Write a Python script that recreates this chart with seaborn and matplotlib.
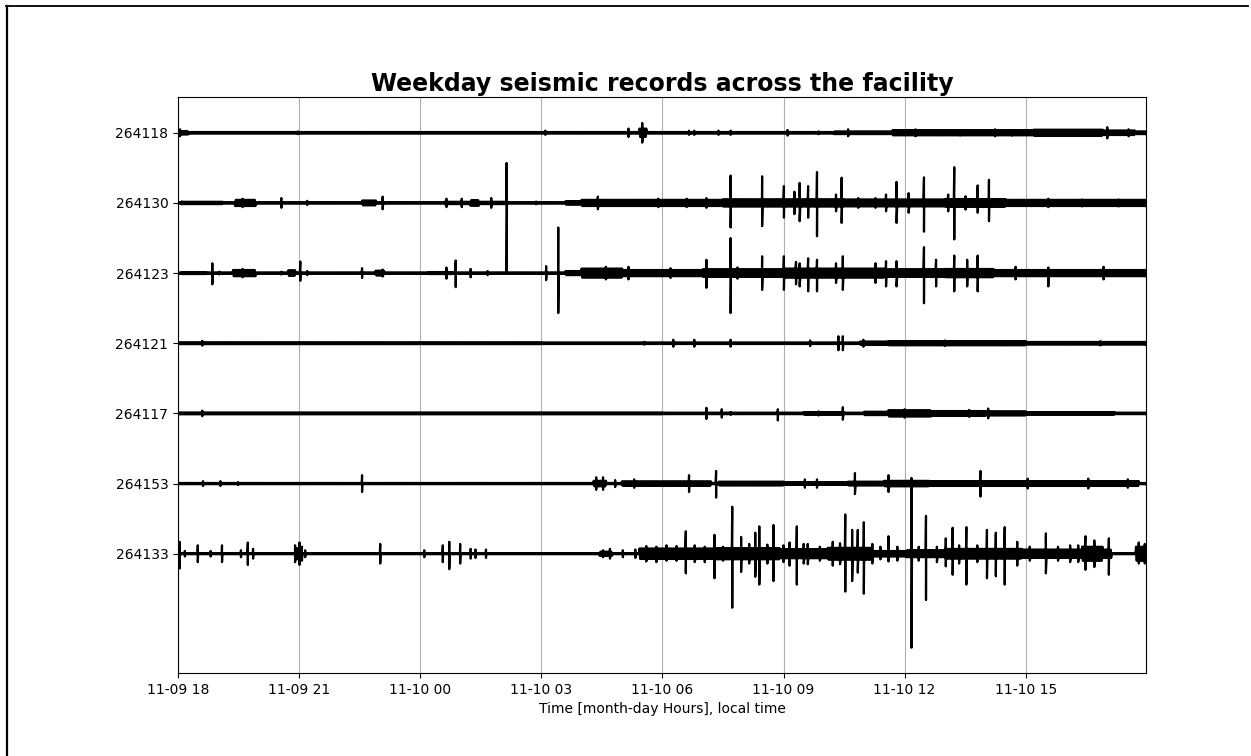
import numpy as np
import pandas as pd
import matplotlib
matplotlib.use("Agg")
import matplotlib.pyplot as plt
import matplotlib.dates as mdates
from matplotlib.lines import Line2D
import seaborn as sns

# ---------------- data (hours after 11-09 18:00; amplitudes in trace spacings) ----
stations = ["264118", "264130", "264123", "264121", "264117", "264153", "264133"]
start_time = "2022-11-09 18:00"
span_hours = 23.98

background = {"264118": 0.012, "264130": 0.010, "264123": 0.010, "264121": 0.012,
              "264117": 0.012, "264153": 0.010, "264133": 0.008}

# noisy stretches: (start hour, end hour, half amplitude)
bursts_264118 = [(0.0, 0.25, 0.025), (11.42, 11.6, 0.06), (16.25, 17.7, 0.02),
                 (17.7, 21.2, 0.037), (21.2, 22.9, 0.045), (22.9, 23.7, 0.033),
                 (23.7, 24.0, 0.02)]
bursts_264130 = [(0.1, 1.1, 0.018), (1.41, 1.92, 0.045), (4.56, 4.9, 0.035),
                 (6.6, 8.1, 0.018), (7.25, 7.46, 0.04), (9.59, 10.0, 0.025),
                 (10.0, 11.0, 0.045), (11.0, 13.5, 0.045), (13.5, 16.5, 0.052),
                 (16.5, 19.0, 0.05), (19.0, 20.5, 0.055), (20.5, 24.0, 0.045)]
bursts_264123 = [(0.1, 0.7, 0.015), (1.36, 1.92, 0.045), (2.73, 2.9, 0.04),
                 (4.9, 5.1, 0.035), (6.2, 6.8, 0.015), (9.59, 10.0, 0.03),
                 (10.0, 11.0, 0.065), (11.0, 13.0, 0.045), (13.0, 15.0, 0.055),
                 (15.0, 17.5, 0.065), (17.5, 19.0, 0.055), (19.0, 20.2, 0.06),
                 (20.2, 24.0, 0.045)]
bursts_264121 = [(0.0, 9.0, 0.014), (16.9, 17.6, 0.025), (17.6, 21.0, 0.03),
                 (21.0, 24.0, 0.02)]
bursts_264117 = [(0.0, 12.0, 0.014), (15.5, 16.5, 0.02), (17.0, 17.6, 0.025),
                 (17.6, 18.65, 0.045), (18.65, 20.0, 0.035), (20.0, 21.0, 0.03),
                 (21.0, 23.2, 0.02)]
bursts_264153 = [(10.3, 10.6, 0.04), (11.0, 13.2, 0.032), (13.4, 15.0, 0.028),
                 (15.0, 16.6, 0.02), (16.6, 17.5, 0.028), (17.5, 18.6, 0.04),
                 (18.6, 23.8, 0.035)]
bursts_264133 = [(10.45, 10.75, 0.03), (11.42, 13.3, 0.075), (13.3, 14.9, 0.08),
                 (14.9, 16.1, 0.065), (16.1, 17.2, 0.085), (17.2, 18.05, 0.04),
                 (18.05, 19.0, 0.05), (19.0, 20.9, 0.07), (20.9, 22.4, 0.06),
                 (22.4, 22.9, 0.10), (22.9, 23.12, 0.06), (23.72, 24.0, 0.10)]

# isolated peaks: (hour, up, down)
spikes_264118 = [(0.05, 0.05, 0.05), (2.97, 0.02, 0.02), (9.1, 0.03, 0.03),
                 (11.16, 0.06, 0.06), (11.5, 0.14, 0.14), (12.66, 0.03, 0.03),
                 (12.79, 0.03, 0.03), (13.39, 0.03, 0.03), (13.69, 0.03, 0.03),
                 (15.1, 0.04, 0.04), (15.87, 0.02, 0.02), (16.6, 0.05, 0.05),
                 (18.27, 0.05, 0.05), (19.38, 0.04, 0.04), (20.24, 0.05, 0.05),
                 (20.67, 0.04, 0.04), (23.02, 0.08, 0.08), (23.55, 0.05, 0.05)]
spikes_264130 = [(0.09, 0.02, 0.02), (1.6, 0.06, 0.06), (2.56, 0.07, 0.07),
                 (3.2, 0.03, 0.03), (5.07, 0.09, 0.09), (6.65, 0.06, 0.06),
                 (7.03, 0.06, 0.06), (7.76, 0.07, 0.07), (8.14, 0.57, 0.975),
                 (8.87, 0.02, 0.02), (10.4, 0.09, 0.09), (11.9, 0.06, 0.06),
                 (12.6, 0.06, 0.06), (13.09, 0.07, 0.07), (13.69, 0.39, 0.35),
                 (14.47, 0.38, 0.33), (15.01, 0.24, 0.21), (15.27, 0.16, 0.16),
                 (15.4, 0.285, 0.26), (15.61, 0.24, 0.21), (15.83, 0.44, 0.475),
                 (16.3, 0.12, 0.12), (16.44, 0.36, 0.285), (16.85, 0.07, 0.07),
                 (17.28, 0.07, 0.07), (17.54, 0.12, 0.12), (17.8, 0.30, 0.285),
                 (18.1, 0.14, 0.14), (18.48, 0.365, 0.41), (19.08, 0.12, 0.12),
                 (19.23, 0.51, 0.52), (19.51, 0.095, 0.095), (19.81, 0.25, 0.14),
                 (20.09, 0.33, 0.26), (21.56, 0.06, 0.06), (22.4, 0.05, 0.05),
                 (23.3, 0.05, 0.05)]
spikes_264123 = [(0.85, 0.14, 0.16), (1.02, 0.02, 0.02), (1.6, 0.06, 0.06),
                 (2.56, 0.02, 0.02), (3.03, 0.165, 0.11), (3.2, 0.03, 0.03),
                 (4.56, 0.07, 0.07), (5.07, 0.05, 0.05), (6.65, 0.08, 0.08),
                 (6.88, 0.18, 0.20), (7.25, 0.06, 0.06), (7.67, 0.03, 0.03),
                 (9.12, 0.10, 0.10), (9.42, 0.65, 0.57), (10.6, 0.09, 0.09),
                 (11.16, 0.09, 0.09), (12.2, 0.07, 0.07), (13.09, 0.19, 0.21),
                 (13.69, 0.50, 0.57), (13.86, 0.08, 0.08), (14.47, 0.24, 0.24),
                 (15.01, 0.24, 0.24), (15.31, 0.16, 0.16), (15.4, 0.14, 0.19),
                 (15.61, 0.21, 0.26), (15.83, 0.19, 0.26), (16.3, 0.14, 0.14),
                 (16.47, 0.24, 0.24), (17.28, 0.14, 0.14), (17.54, 0.17, 0.19),
                 (17.8, 0.17, 0.19), (18.48, 0.37, 0.43), (18.78, 0.19, 0.19),
                 (19.23, 0.25, 0.26), (19.55, 0.19, 0.19), (19.81, 0.25, 0.26),
                 (20.75, 0.09, 0.09), (21.56, 0.08, 0.19), (22.93, 0.09, 0.09)]
spikes_264121 = [(0.6, 0.035, 0.035), (11.55, 0.02, 0.02), (12.27, 0.05, 0.05),
                 (12.79, 0.05, 0.05), (13.69, 0.05, 0.05), (15.66, 0.04, 0.04),
                 (16.36, 0.10, 0.10), (16.47, 0.10, 0.10), (16.98, 0.05, 0.05),
                 (19.0, 0.04, 0.04), (22.85, 0.03, 0.03)]
spikes_264117 = [(0.6, 0.04, 0.04), (13.09, 0.08, 0.08), (13.47, 0.06, 0.06),
                 (13.69, 0.02, 0.02), (14.86, 0.06, 0.10), (15.87, 0.03, 0.03),
                 (16.47, 0.09, 0.09), (18.0, 0.06, 0.06), (19.6, 0.05, 0.05),
                 (20.07, 0.07, 0.07)]
spikes_264153 = [(0.62, 0.035, 0.035), (1.05, 0.035, 0.035), (1.49, 0.02, 0.02),
                 (4.56, 0.12, 0.12), (10.36, 0.09, 0.09), (10.53, 0.09, 0.09),
                 (10.83, 0.05, 0.05), (11.3, 0.06, 0.06), (12.66, 0.12, 0.12),
                 (13.33, 0.18, 0.20), (15.53, 0.06, 0.06), (15.83, 0.06, 0.06),
                 (16.77, 0.15, 0.15), (17.6, 0.12, 0.12), (18.18, 0.07, 0.07),
                 (19.88, 0.18, 0.185), (21.05, 0.07, 0.07), (22.55, 0.07, 0.07),
                 (23.53, 0.06, 0.06)]
spikes_264133 = [(0.04, 0.17, 0.21), (0.17, 0.04, 0.04), (0.49, 0.12, 0.12),
                 (0.81, 0.04, 0.04), (1.09, 0.12, 0.12), (1.56, 0.05, 0.05),
                 (1.73, 0.16, 0.16), (1.86, 0.07, 0.07), (2.9, 0.12, 0.12),
                 (2.95, 0.08, 0.08), (3.01, 0.16, 0.16), (3.07, 0.10, 0.10),
                 (3.15, 0.05, 0.05), (5.01, 0.14, 0.14), (6.1, 0.05, 0.05),
                 (6.56, 0.12, 0.12), (6.72, 0.17, 0.22), (6.99, 0.14, 0.14),
                 (7.25, 0.07, 0.07), (7.37, 0.06, 0.06), (7.63, 0.06, 0.06),
                 (10.53, 0.05, 0.05), (10.7, 0.07, 0.07), (11.02, 0.05, 0.05),
                 (11.33, 0.06, 0.06), (11.6, 0.11, 0.11), (11.85, 0.10, 0.12),
                 (12.1, 0.12, 0.10), (12.35, 0.11, 0.10), (12.58, 0.32, 0.28),
                 (12.8, 0.12, 0.12), (13.05, 0.10, 0.12), (13.29, 0.27, 0.35),
                 (13.5, 0.10, 0.10), (13.73, 0.67, 0.77), (13.95, 0.24, 0.26),
                 (14.15, 0.14, 0.14), (14.3, 0.30, 0.33), (14.4, 0.39, 0.44),
                 (14.6, 0.13, 0.14), (14.75, 0.41, 0.39), (15.0, 0.12, 0.12),
                 (15.15, 0.16, 0.17), (15.33, 0.39, 0.44), (15.5, 0.14, 0.14),
                 (15.6, 0.14, 0.15), (15.9, 0.10, 0.10), (16.22, 0.17, 0.17),
                 (16.4, 0.15, 0.15), (16.53, 0.56, 0.54), (16.7, 0.34, 0.39),
                 (16.84, 0.34, 0.27), (16.99, 0.45, 0.57), (17.2, 0.14, 0.14),
                 (17.4, 0.10, 0.08), (17.6, 0.25, 0.11), (17.82, 0.10, 0.10),
                 (18.17, 1.08, 1.34), (18.35, 0.10, 0.10), (18.53, 0.54, 0.66),
                 (18.8, 0.10, 0.12), (19.02, 0.22, 0.18), (19.19, 0.37, 0.30),
                 (19.35, 0.12, 0.14), (19.53, 0.38, 0.44), (19.8, 0.12, 0.12),
                 (20.04, 0.34, 0.35), (20.26, 0.30, 0.32), (20.48, 0.38, 0.44),
                 (20.79, 0.17, 0.17), (21.1, 0.10, 0.10), (21.5, 0.29, 0.28),
                 (21.8, 0.10, 0.10), (22.1, 0.12, 0.12), (22.3, 0.12, 0.12),
                 (22.48, 0.25, 0.23), (22.7, 0.19, 0.19), (23.06, 0.22, 0.30),
                 (23.8, 0.16, 0.14), (23.95, 0.14, 0.14)]

bursts = {"264118": bursts_264118, "264130": bursts_264130, "264123": bursts_264123,
          "264121": bursts_264121, "264117": bursts_264117, "264153": bursts_264153,
          "264133": bursts_264133}
spikes = {"264118": spikes_264118, "264130": spikes_264130, "264123": spikes_264123,
          "264121": spikes_264121, "264117": spikes_264117, "264153": spikes_264153,
          "264133": spikes_264133}

title = "Weekday seismic records across the facility"
xlabel = "Time [month-day Hours], local time"

# ---------------- build the traces -------------------------------------------
t0 = pd.Timestamp(start_time)
sample_h = np.arange(0, 24 * 60 + 1) / 60.0
frames = []
for i, st in enumerate(stations):
    env = np.full(sample_h.shape, background[st])
    for h0, h1, a in bursts[st]:
        m = (sample_h >= h0) & (sample_h <= h1)
        env[m] = np.maximum(env[m], a)
    sign = np.where(np.arange(len(sample_h)) % 2 == 0, 1.0, -1.0)
    hh = list(sample_h)
    yy = list(sign * env)
    for h, up, dn in spikes[st]:
        hh += [h, h + 1e-6]
        yy += [up, -dn]
    hh = np.array(hh)
    yy = np.array(yy)
    order = np.argsort(hh, kind="stable")
    frames.append(pd.DataFrame({
        "time": t0 + pd.to_timedelta(hh[order], unit="h"),
        "value": yy[order] - i,
        "station": st,
    }))
df = pd.concat(frames, ignore_index=True)

# ---------------- figure -------------------------------------------------------
fig = plt.figure(figsize=(12.51, 7.56), dpi=100)
ax = fig.add_axes([178 / 1251, 1 - 673 / 756, (1146 - 178) / 1251, (673 - 97) / 756])

sns.lineplot(data=df, x="time", y="value", units="station", estimator=None,
             sort=False, color="black", linewidth=1.6, legend=False, ax=ax)

ax.set_yticks([-i for i in range(len(stations))])
ax.set_yticklabels(stations)
ax.set_ylim(-7.70, 0.51)
ax.set_xlim(t0, t0 + pd.Timedelta(hours=span_hours))
ax.xaxis.set_major_locator(mdates.HourLocator(byhour=range(0, 24, 3)))
ax.xaxis.set_major_formatter(mdates.DateFormatter("%m-%d %H"))
ax.grid(axis="x", color="#b0b0b0", linewidth=0.8)
ax.set_axisbelow(True)
ax.set_ylabel("")
ax.set_xlabel(xlabel, fontsize=10)
ax.set_title(title, fontsize=17, fontweight="bold", pad=4)

# page frame lines of the screenshot
fig.add_artist(Line2D([7 / 1251, 7 / 1251], [0, 1 - 6 / 756], transform=fig.transFigure,
                      color="black", linewidth=1.6))
fig.add_artist(Line2D([6 / 1251, 1248 / 1251], [1 - 6 / 756, 1 - 6 / 756],
                      transform=fig.transFigure, color="black", linewidth=1.3))

fig.savefig("out.png", dpi=100)
